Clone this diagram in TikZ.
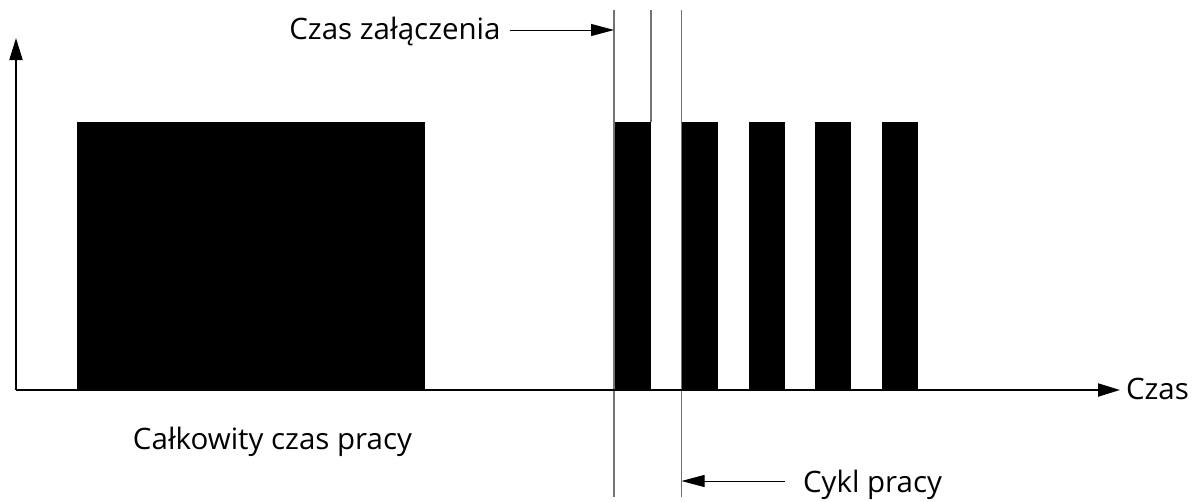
\documentclass[tikz,border=0pt]{standalone}
\usepackage{fontspec}
\setmainfont{Open Sans}
\usetikzlibrary{arrows.meta}
\begin{document}
\begin{tikzpicture}[x=1pt,y=-1pt,
  axis/.style={line width=2pt,-{Triangle[length=22pt,width=13pt]}},
  guide/.style={line width=1.3pt,draw=black!55},
  pointer/.style={line width=1pt,-{Triangle[length=23pt,width=12pt]}},
  pulse/.style={fill=black},
  lbl/.style={font=\fontsize{29.5}{34}\selectfont,inner sep=0pt,anchor=base}]
\useasboundingbox (0,0) rectangle (1200,501);
% pulses
\fill[pulse] (77,122) rectangle (425,389);
\foreach \a/\b in {614/651,682/718,749/785,815/851,882/918}
  \fill[pulse] (\a,122) rectangle (\b,389);
% guide lines
\draw[guide] (614,10) -- (614,497);
\draw[guide] (651,10) -- (651,122);
\draw[guide] (681.5,10) -- (681.5,497);
% axes
\coordinate (o) at (16,390);
\coordinate (ytip) at (16,38);
\coordinate (xtip) at (1120,390);
\draw[axis] (o) -- (ytip);
\draw[axis] (o) -- (xtip);
% labels
\node[lbl] (czas) at (1157.5,399) {Czas};
\node[lbl] (zal) at (395,39) {Czas załączenia};
\node[lbl] (cykl) at (872.5,492) {Cykl pracy};
\node[lbl] (calk) at (272.5,449) {Całkowity czas pracy};
% pointers to the guide lines
\coordinate (zaltail) at (510,30);
\coordinate (zaltip) at (614,30);
\coordinate (cykltail) at (785,481);
\coordinate (cykltip) at (681.5,481);
\draw[pointer] (zaltail) -- (zaltip);
\draw[pointer] (cykltail) -- (cykltip);
\end{tikzpicture}
\end{document}
